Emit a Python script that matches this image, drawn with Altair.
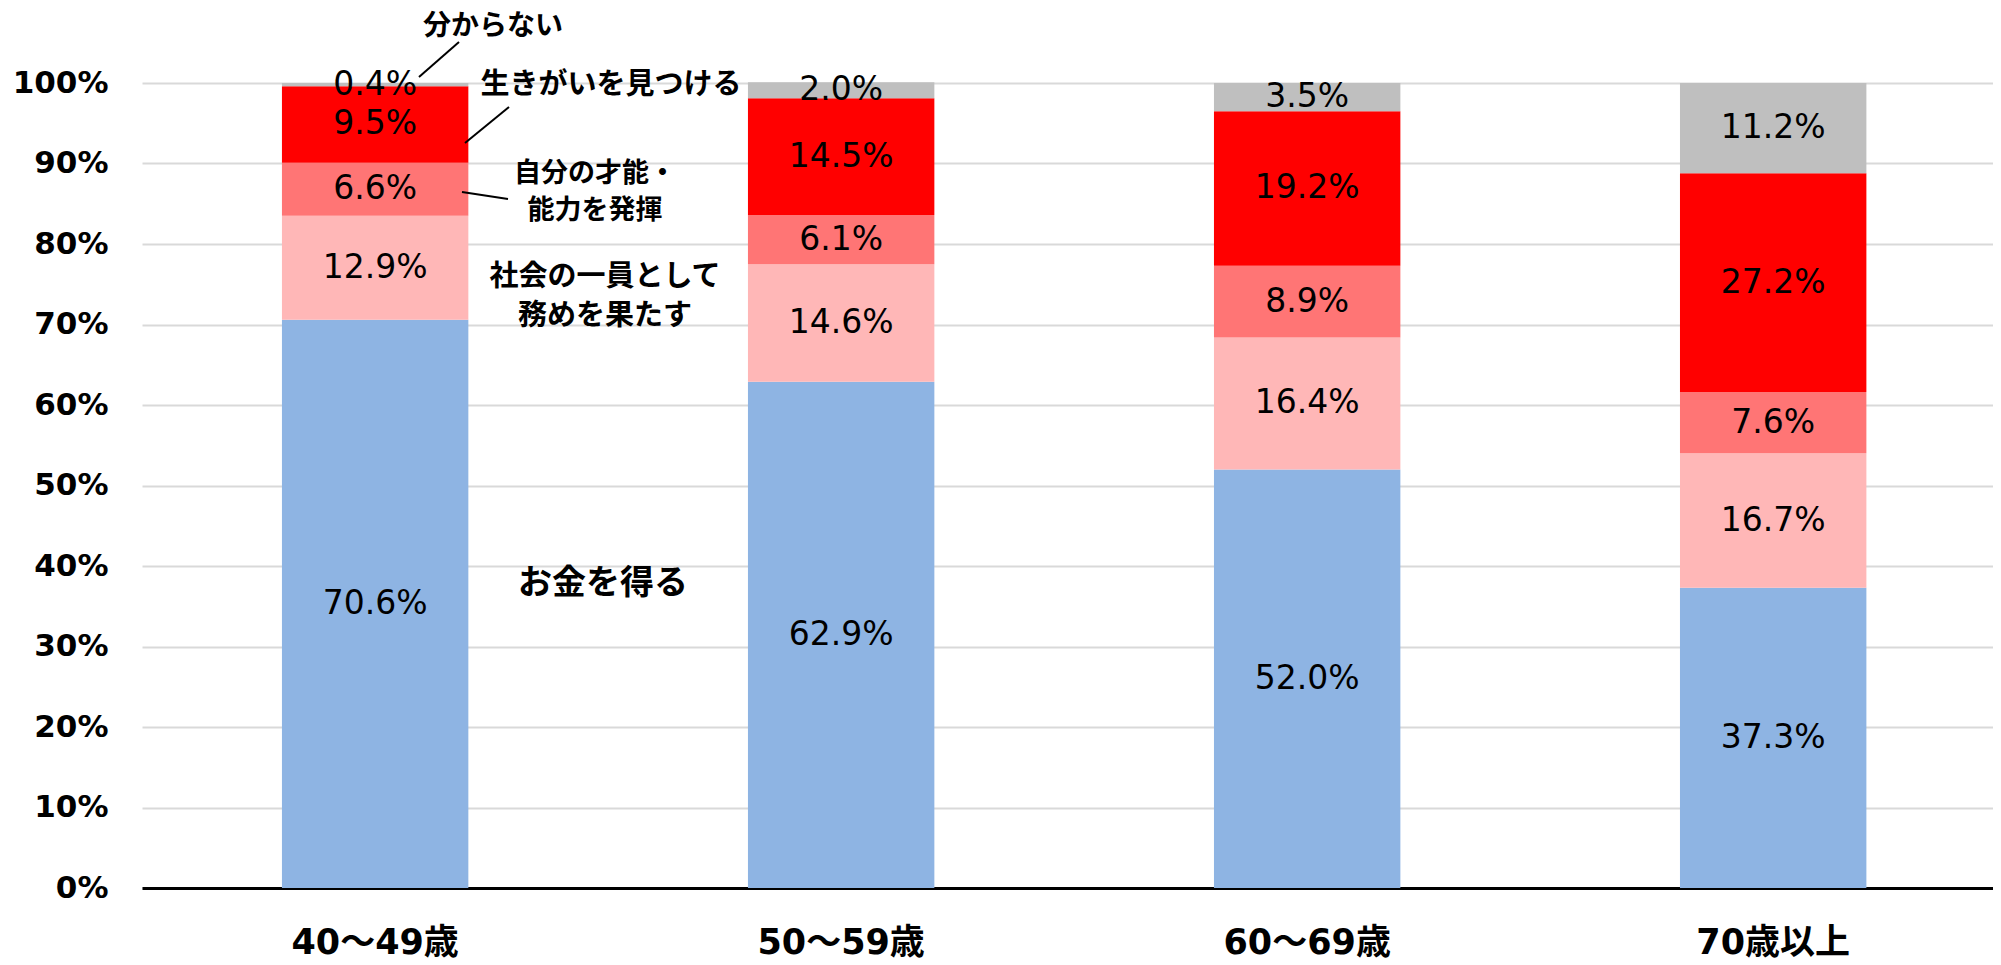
import altair as alt
import pandas as pd

ages = ["40〜49歳", "50〜59歳", "60〜69歳", "70歳以上"]
categories = ["お金を得る", "社会の一員として務めを果たす", "自分の才能・能力を発揮", "生きがいを見つける", "分からない"]
money = [70.6, 62.9, 52.0, 37.3]
society = [12.9, 14.6, 16.4, 16.7]
talent = [6.6, 6.1, 8.9, 7.6]
purpose = [9.5, 14.5, 19.2, 27.2]
unknown = [0.4, 2.0, 3.5, 11.2]
colors = ["#8EB4E3", "#FFB7B7", "#FF7575", "#FF0000", "#BFBFBF"]

rows = []
for i, (cat, vals) in enumerate(zip(categories, [money, society, talent, purpose, unknown])):
    for age, v in zip(ages, vals):
        rows.append({"age": age, "cat": cat, "order": i, "value": v / 100.0})
df = pd.DataFrame(rows)

xscale = alt.Scale(domain=ages, paddingInner=0.6, paddingOuter=0.286, align=0.525)

base = (
    alt.Chart(df)
    .transform_stack(stack="value", as_=["y0", "y1"], groupby=["age"],
                     sort=[alt.SortField("order", order="ascending")])
    .transform_calculate(mid="(datum.y0 + datum.y1) / 2",
                         label="format(datum.value, '.1%')")
)

bars = base.mark_bar().encode(
    x=alt.X("age:N", sort=ages, scale=xscale,
            axis=alt.Axis(title=None, labelAngle=0, ticks=False, grid=False,
                          labelFont="DejaVu Sans, Noto Sans CJK JP", labelFontWeight="bold",
                          labelFontSize=35, labelColor="black", labelPadding=37,
                          domainColor="black", domainWidth=3)),
    y=alt.Y("y0:Q", scale=alt.Scale(domain=[0, 1], nice=False),
            axis=alt.Axis(title=None, format=".0%", values=[i / 10 for i in range(11)],
                          ticks=False, domain=False, grid=True, gridColor="#D9D9D9",
                          gridWidth=2, labelFont="DejaVu Sans", labelFontWeight="bold",
                          labelFontSize=31, labelColor="black", labelPadding=34)),
    y2="y1:Q",
    color=alt.Color("cat:N", scale=alt.Scale(domain=categories, range=colors), legend=None),
)

labels = base.mark_text(font="DejaVu Sans", fontSize=33, color="black", baseline="middle").encode(
    x=alt.X("age:N", sort=ages, scale=xscale),
    y=alt.Y("mid:Q"),
    text="label:N",
)

ann_font = "Noto Sans CJK JP"


def annotation(text, x, y, size=29, line_height=38):
    return alt.Chart(pd.DataFrame({"t": [text]})).mark_text(
        font=ann_font, fontWeight="bold", fontSize=size, color="black",
        baseline="middle", align="center", lineBreak="\n", lineHeight=line_height,
    ).encode(text="t:N", x=alt.value(x), y=alt.value(y))


def leader(x1, y1, x2, y2):
    return alt.Chart(pd.DataFrame({"a": [0]})).mark_rule(color="black", strokeWidth=2).encode(
        x=alt.value(x1), y=alt.value(y1), x2=alt.value(x2), y2=alt.value(y2)
    )


anns = [
    annotation("分からない", 351, -56, size=28),
    annotation("生きがいを見つける", 469, 2),
    annotation("自分の才能・\n能力を発揮", 453, 91, size=27, line_height=37),
    annotation("社会の一員として\n務めを果たす", 463, 194, line_height=39),
    annotation("お金を得る", 461, 501, size=34),
    leader(317, -41, 277, -6),
    leader(367, 24, 323, 60),
    leader(320, 109, 366, 116),
]

chart = alt.layer(bars, labels, *anns).properties(
    width=1851, height=805,
    autosize=alt.AutoSizeParams(type="none"),
    padding={"left": 134, "top": 75, "right": 0, "bottom": 74},
).configure_view(stroke=None)

chart.save("out.html", embed_options={"renderer": "svg", "actions": False})
